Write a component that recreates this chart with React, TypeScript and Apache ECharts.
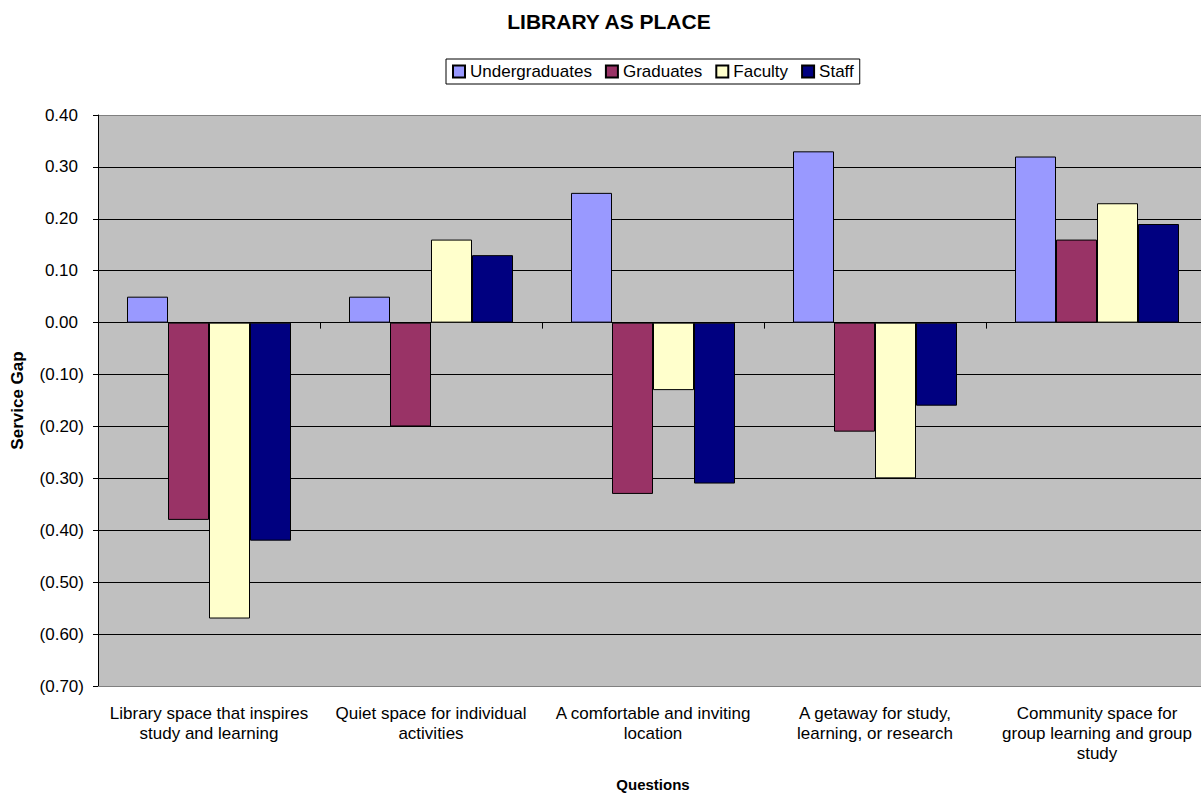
import React, { useEffect, useRef } from "react";
import * as echarts from "echarts";

const categories = [
  "Library space that inspires\nstudy and learning",
  "Quiet space for individual\nactivities",
  "A comfortable and inviting\nlocation",
  "A getaway for study,\nlearning, or research",
  "Community space for\ngroup learning and group\nstudy",
];
const seriesNames = ["Undergraduates", "Graduates", "Faculty", "Staff"];
const undergraduates = [0.05, 0.05, 0.25, 0.33, 0.32];
const graduates = [-0.38, -0.2, -0.33, -0.21, 0.16];
const faculty = [-0.57, 0.16, -0.13, -0.3, 0.23];
const staff = [-0.42, 0.13, -0.31, -0.16, 0.19];
const colors = ["#9999FF", "#993366", "#FFFFCC", "#000080"];

const FONT = '"Liberation Sans", Arial, sans-serif';

export default function App() {
  const ref = useRef<HTMLDivElement>(null);
  useEffect(() => {
    if (!ref.current) return;
    const chart = echarts.init(ref.current, null, { renderer: "svg" });
    const values = [undergraduates, graduates, faculty, staff];
    const splitColors: string[] = [];
    for (let i = 0; i < 12; i++) splitColors.push(i === 0 || i === 11 ? "#808080" : "#000000");
    chart.setOption({
      animation: false,
      backgroundColor: "#ffffff",
      textStyle: { fontFamily: FONT },
      title: {
        text: "LIBRARY AS PLACE",
        left: 604,
        top: 6,
        textAlign: "center",
        textStyle: { fontFamily: FONT, fontSize: 21, fontWeight: "bold", color: "#000" },
      },
      legend: {
        data: seriesNames,
        left: 446,
        top: 59,
        icon: "rect",
        itemWidth: 12,
        itemHeight: 12,
        itemGap: 13,
        padding: [4, 6, 4, 6],
        backgroundColor: "#ffffff",
        borderColor: "#000000",
        borderWidth: 1,
        borderRadius: 0,
        textStyle: { fontFamily: FONT, fontSize: 17, color: "#000" },
      },
      grid: {
        left: 98,
        right: -7,
        top: 115,
        bottom: 110,
        show: true,
        backgroundColor: "#C0C0C0",
        borderWidth: 0,
        outerBoundsMode: "none",
        containLabel: false,
      },
      xAxis: [
        {
          type: "category",
          data: categories,
          position: "bottom",
          axisLine: { onZero: false, lineStyle: { color: "#808080", width: 1 } },
          axisTick: { show: false },
          axisLabel: {
            fontFamily: FONT,
            fontSize: 17,
            lineHeight: 20,
            color: "#000",
            margin: 17,
            interval: 0,
          },
          splitLine: { show: false },
          name: "Questions",
          nameLocation: "middle",
          nameGap: 91,
          nameTextStyle: { fontFamily: FONT, fontSize: 15, fontWeight: "bold", color: "#000" },
        },
        {
          type: "category",
          data: categories,
          position: "top",
          axisLine: { onZero: true, lineStyle: { color: "#000", width: 1 } },
          axisTick: { show: true, inside: true, length: 6, lineStyle: { color: "#000" } },
          axisLabel: { show: false },
          splitLine: { show: false },
        },
      ],
      yAxis: {
        type: "value",
        min: -0.7,
        max: 0.4,
        interval: 0.1,
        axisLine: { show: true, lineStyle: { color: "#000", width: 1 } },
        axisTick: { show: true, length: 5, lineStyle: { color: "#000" } },
        splitLine: { show: true, lineStyle: { color: splitColors, width: 1 } },
        axisLabel: {
          fontFamily: FONT,
          fontSize: 17,
          color: "#000",
          margin: 14,
          formatter: (v: number) => {
            const r = Math.round(v * 100) / 100;
            if (r < 0) return "(" + Math.abs(r).toFixed(2) + ")";
            return "{p|" + r.toFixed(2) + "}";
          },
          rich: {
            p: { fontFamily: FONT, fontSize: 17, color: "#000", padding: [0, 6, 0, 0] },
          },
        },
        name: "Service Gap",
        nameLocation: "middle",
        nameGap: 72,
        nameTextStyle: { fontFamily: FONT, fontSize: 17, fontWeight: "bold", color: "#000" },
      },
      series: seriesNames.map((name, i) => ({
        name,
        type: "bar",
        xAxisIndex: 0,
        data: values[i],
        barWidth: 41,
        barGap: "0%",
        itemStyle: { color: colors[i], borderColor: "#000", borderWidth: 1 },
      })),
    });
    return () => chart.dispose();
  }, []);
  return (
    <div
      ref={ref}
      style={{ position: "absolute", left: 0, top: 0, width: 1201, height: 796 }}
    />
  );
}
